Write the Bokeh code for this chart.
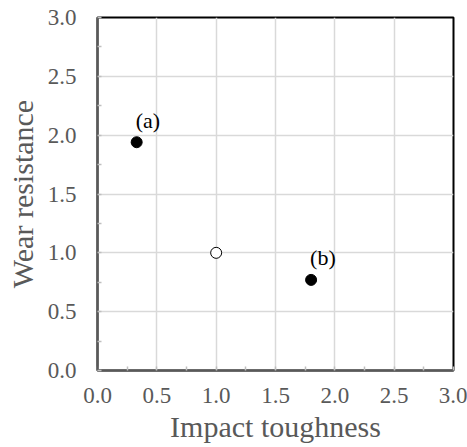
from bokeh.plotting import figure
from bokeh.models import Range1d, SingleIntervalTicker, NumeralTickFormatter, ColumnDataSource
from bokeh.embed import file_html
from bokeh.resources import INLINE
from bokeh.core.properties import value

# Data
filled_x = [0.33, 1.8]
filled_y = [1.94, 0.77]
filled_labels = ["(a)", "(b)"]
ref_x = [1.0]
ref_y = [1.0]
x_title = "Impact toughness"
y_title = "Wear resistance"

FONT = "Liberation Serif, Times New Roman, serif"
GRAY = "#595959"

p = figure(width=467, height=447, output_backend="svg", toolbar_location=None,
           x_range=Range1d(0, 3), y_range=Range1d(0, 3),
           min_border_left=97, min_border_right=14, min_border_top=17, min_border_bottom=77)
p.background_fill_color = "white"
p.border_fill_color = "white"
p.outline_line_color = "black"
p.outline_line_width = 2

for ax in (p.xaxis[0], p.yaxis[0]):
    ax.ticker = SingleIntervalTicker(interval=0.5, num_minor_ticks=2)
    ax.formatter = NumeralTickFormatter(format="0.0")
    ax.axis_line_color = GRAY
    ax.axis_line_width = 2
    ax.major_tick_in = 0
    ax.major_tick_out = 0
    ax.minor_tick_in = 4
    ax.minor_tick_out = 0
    ax.minor_tick_line_color = "#bfbfbf"
    ax.minor_tick_line_width = 1.5
    ax.major_label_text_font = FONT
    ax.major_label_text_font_size = "23px"
    ax.major_label_text_color = GRAY
    ax.axis_label_text_font = FONT
    ax.axis_label_text_font_size = "30px"
    ax.axis_label_text_color = GRAY
    ax.axis_label_text_font_style = "normal"

p.xaxis.axis_label = x_title
p.yaxis.axis_label = y_title
p.xaxis.major_label_standoff = 17
p.yaxis.major_label_standoff = 21
p.xaxis.axis_label_standoff = 4
p.yaxis.axis_label_standoff = 6

for g in (p.xgrid[0], p.ygrid[0]):
    g.ticker = SingleIntervalTicker(interval=0.5)
    g.grid_line_color = "#d9d9d9"
    g.grid_line_width = 1.5

src = ColumnDataSource(dict(x=filled_x, y=filled_y, t=filled_labels))
p.scatter(x=ref_x, y=ref_y, size=11, marker="circle", fill_color="white",
          line_color="black", line_width=1)
p.scatter("x", "y", source=src, size=11, marker="circle", fill_color="black",
          line_color="black")
p.text("x", "y", text="t", source=src, x_offset=-1, y_offset=-22,
       text_font=value(FONT), text_font_size="22px", text_color="black",
       text_align="left", text_baseline="middle")

open("out.html", "w").write(file_html(p, INLINE))
